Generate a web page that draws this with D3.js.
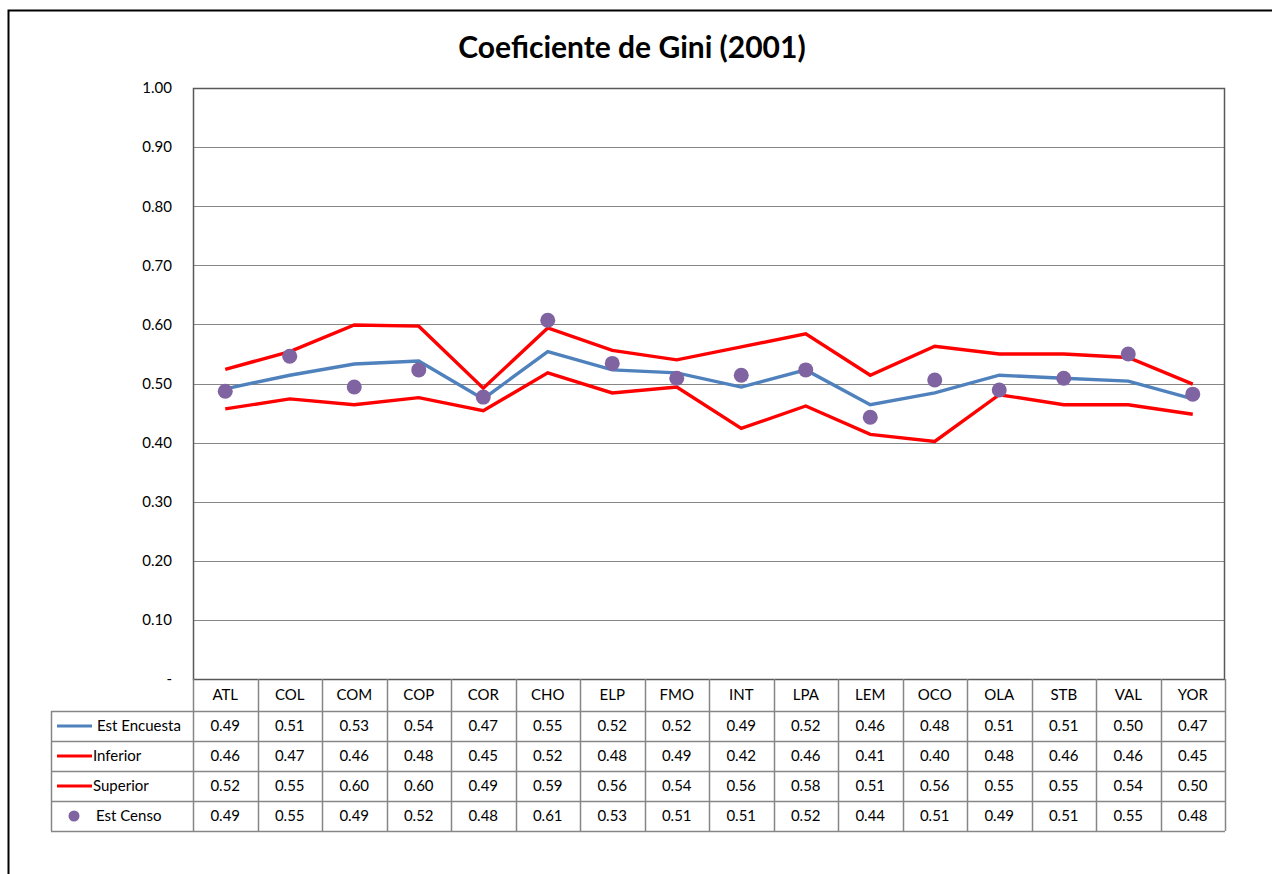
<!DOCTYPE html>
<html>
<head>
<meta charset="utf-8">
<script src="https://cdn.jsdelivr.net/npm/d3@7"></script>
<style>
  body { margin: 0; background: #fff; }
  svg { display: block; font-family: Lato, "Open Sans", sans-serif; }
</style>
</head>
<body>
<svg id="chart" width="1272" height="874"></svg>
<script>
// categories and series
const categories = ['ATL','COL','COM','COP','COR','CHO','ELP','FMO','INT','LPA','LEM','OCO','OLA','STB','VAL','YOR'];
const estEncuesta = [0.491,0.514,0.533,0.538,0.474,0.554,0.523,0.518,0.494,0.523,0.464,0.484,0.514,0.509,0.504,0.474];
const inferior    = [0.457,0.474,0.464,0.476,0.454,0.518,0.484,0.494,0.424,0.462,0.414,0.402,0.481,0.464,0.464,0.448];
const superior    = [0.524,0.554,0.599,0.597,0.492,0.594,0.556,0.540,0.562,0.584,0.514,0.563,0.550,0.550,0.544,0.499];
const estCenso    = [0.487,0.546,0.494,0.523,0.477,0.607,0.534,0.509,0.514,0.523,0.443,0.506,0.489,0.509,0.550,0.482];
const yTicks = [0,0.1,0.2,0.3,0.4,0.5,0.6,0.7,0.8,0.9,1.0];

const series = [
  {name:'Est Encuesta', values:estEncuesta, color:'#4F81BD', type:'line'},
  {name:'Inferior', values:inferior, color:'#FF0000', type:'line'},
  {name:'Superior', values:superior, color:'#FF0000', type:'line'},
  {name:'Est Censo', values:estCenso, color:'#8064A2', type:'dot'}
];

const svg = d3.select('#chart');
const plot = {left:193, right:1225, top:88, bottom:679};
const rowH = 30, headH = 32, legendLeft = 51;
const gridColor = '#868686';
const fs = 15;

// outer frame
svg.append('rect').attr('x',8.5).attr('y',10.5).attr('width',1300).attr('height',900)
  .attr('fill','none').attr('stroke','#000').attr('stroke-width',2);

svg.append('text').attr('x',632).attr('y',58).attr('text-anchor','middle')
  .attr('font-size',30).attr('font-weight','bold').text('Coeficiente de Gini (2001)');

const x = d3.scaleBand().domain(categories).range([plot.left, plot.right]);
const y = d3.scaleLinear().domain([0,1]).range([plot.bottom, plot.top]);

// gridlines
svg.append('g').selectAll('line').data(yTicks.slice(1)).join('line')
  .attr('x1',plot.left).attr('x2',plot.right)
  .attr('y1',d => Math.round(y(d))+0.5).attr('y2',d => Math.round(y(d))+0.5)
  .attr('stroke',gridColor).attr('stroke-width',1);

// y axis
const yAxis = svg.append('g').attr('transform',`translate(${plot.left},0)`)
  .call(d3.axisLeft(y).tickValues(yTicks).tickSize(0).tickPadding(21)
    .tickFormat(d => d === 0 ? '-' : d3.format('.2f')(d)));
yAxis.select('.domain').remove();
yAxis.selectAll('text').attr('font-size',fs).attr('fill','#000').attr('font-family','Lato, sans-serif');

// plot border
svg.append('rect').attr('x',plot.left+0.5).attr('y',plot.top+0.5)
  .attr('width',plot.right-plot.left-1).attr('height',plot.bottom-plot.top)
  .attr('fill','none').attr('stroke','#595959').attr('stroke-width',1.5);

const cx = c => x(c) + x.bandwidth()/2;

// lines
const line = d3.line().x((d,i) => cx(categories[i])).y(d => y(d));
series.filter(s => s.type === 'line').forEach(s => {
  svg.append('path').datum(s.values).attr('d',line)
    .attr('fill','none').attr('stroke',s.color).attr('stroke-width',3.4)
    .attr('stroke-linejoin','miter');
});
// dots
series.filter(s => s.type === 'dot').forEach(s => {
  svg.append('g').selectAll('circle').data(s.values).join('circle')
    .attr('cx',(d,i) => cx(categories[i])).attr('cy',d => y(d)).attr('r',7.5)
    .attr('fill',s.color);
});

// data table
const table = svg.append('g');
const tBottom = plot.bottom + headH + rowH*series.length;
const hLines = [plot.bottom + headH];
series.forEach((s,i) => hLines.push(plot.bottom + headH + rowH*(i+1)));
table.selectAll('.h').data(hLines).join('line')
  .attr('x1',legendLeft).attr('x2',plot.right)
  .attr('y1',d => d+0.5).attr('y2',d => d+0.5)
  .attr('stroke',gridColor).attr('stroke-width',1.5);
const vx = categories.map(c => x(c)).concat([plot.right]);
table.selectAll('.v').data(vx).join('line')
  .attr('x1',d => Math.round(d)+0.5).attr('x2',d => Math.round(d)+0.5)
  .attr('y1',plot.bottom).attr('y2',tBottom)
  .attr('stroke',gridColor).attr('stroke-width',1.5);
table.append('line').attr('x1',legendLeft+0.5).attr('x2',legendLeft+0.5)
  .attr('y1',plot.bottom+headH).attr('y2',tBottom)
  .attr('stroke',gridColor).attr('stroke-width',1.5);

// header labels
table.selectAll('.cat').data(categories).join('text')
  .attr('x',d => cx(d)).attr('y',plot.bottom + headH/2 + 5)
  .attr('text-anchor','middle').attr('font-size',fs).text(d => d);

// rows
series.forEach((s,i) => {
  const rowMid = plot.bottom + headH + rowH*i + rowH/2;
  table.selectAll(null).data(s.values).join('text')
    .attr('x',(d,j) => cx(categories[j])).attr('y',rowMid+5)
    .attr('text-anchor','middle').attr('font-size',fs)
    .text(d => d3.format('.2f')(d));
  if (s.type === 'line') {
    table.append('line').attr('x1',57).attr('x2',92).attr('y1',rowMid).attr('y2',rowMid)
      .attr('stroke',s.color).attr('stroke-width',3);
  } else {
    table.append('circle').attr('cx',74).attr('cy',rowMid).attr('r',5.5).attr('fill',s.color);
  }
  table.append('text').attr('x', i === 0 ? 97 : (s.type === 'dot' ? 96 : 93)).attr('y',rowMid+5)
    .attr('font-size',fs).text(s.name);
});
</script>
</body>
</html>
